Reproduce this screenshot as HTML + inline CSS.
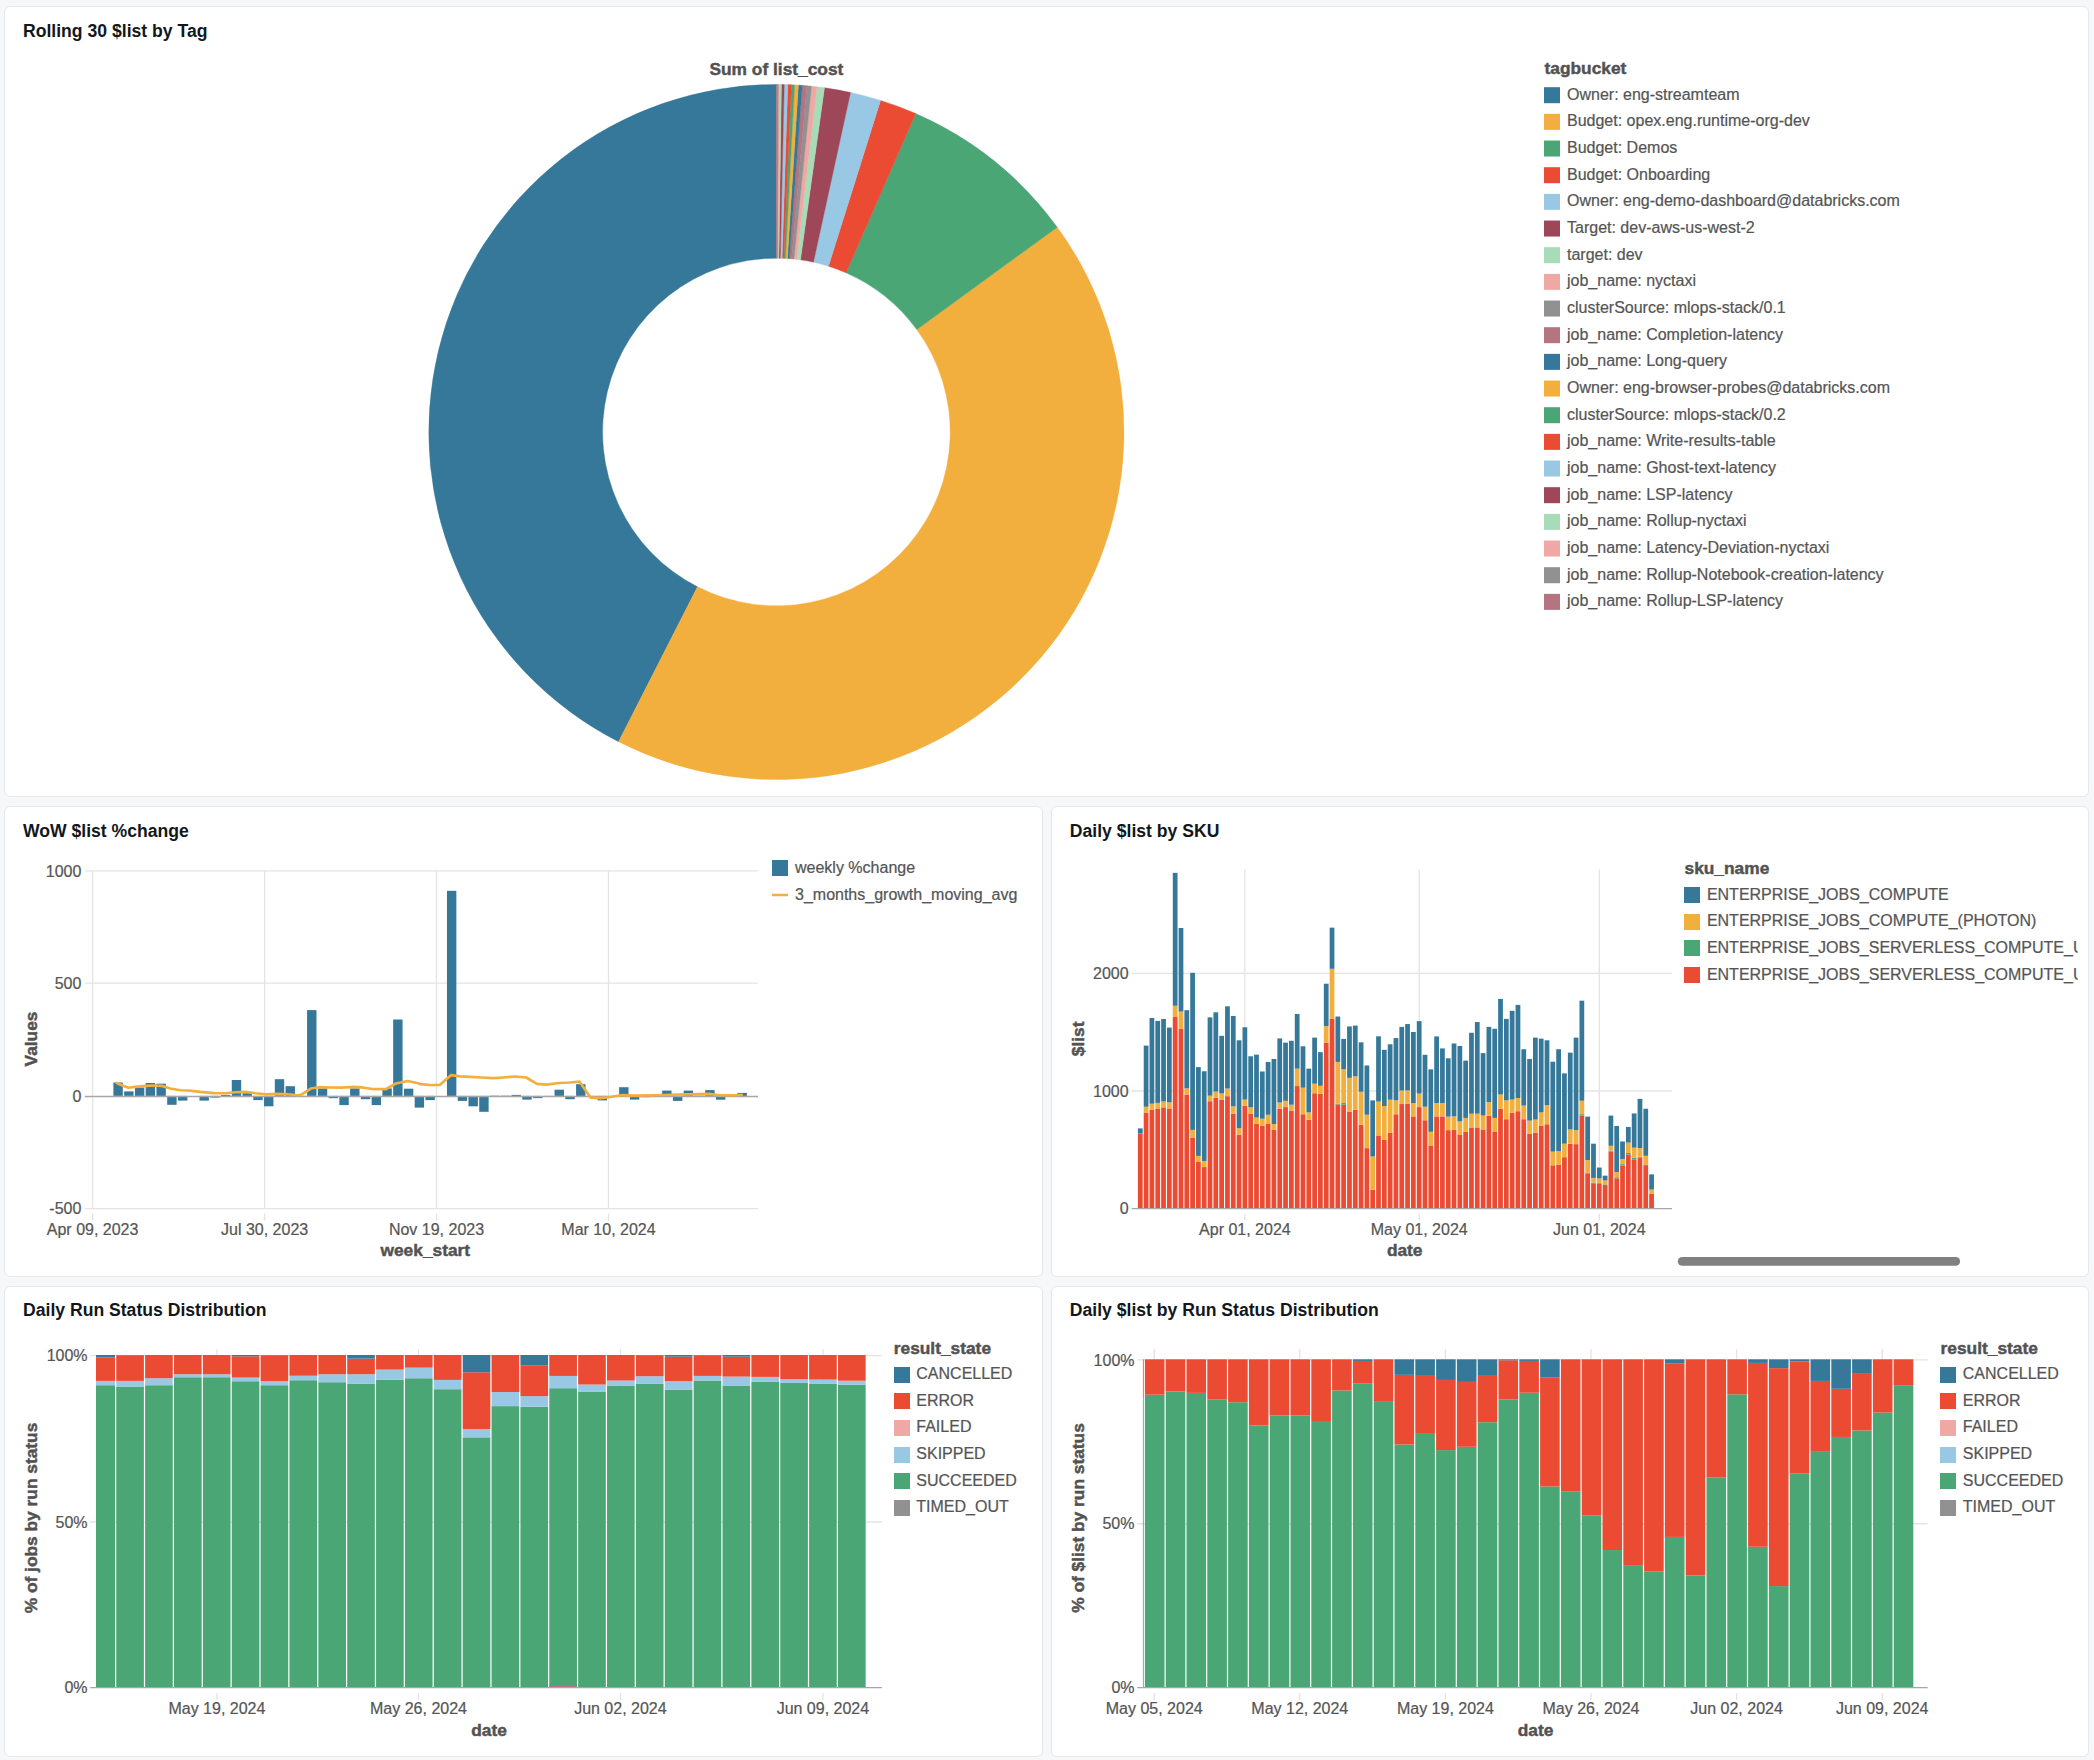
<!DOCTYPE html>
<html lang="en"><head><meta charset="utf-8"><title>Jobs cost dashboard</title>
<style>
html,body{margin:0;padding:0}
body{width:2094px;height:1760px;background:#F6F7F9;position:relative;overflow:hidden;font-family:"Liberation Sans", sans-serif}
.card{position:absolute;box-sizing:border-box;background:#fff;border:1px solid #E6E8EB;border-radius:6px;overflow:hidden}
.card h2{position:absolute;margin:0;font-size:17.6px;line-height:20px;font-weight:bold;color:#12171C;white-space:nowrap}
.card svg{position:absolute;left:-1px;top:-1px;font-family:"Liberation Sans", sans-serif}
</style></head><body>

<div class="card" style="left:4px;top:6px;width:2085px;height:791px">
<h2 style="left:18px;top:14.4px">Rolling 30 $list by Tag</h2>
<svg width="2085" height="791" viewBox="4 6 2085 791">
<path d="M776.4 84.4A347.6 347.6 0 0 0 618.59 741.71L697.5 586.86A173.8 173.8 0 0 1 776.4 258.2Z" fill="#36789A" stroke="#36789A" stroke-width="0.4"/>
<path d="M618.59 741.71A347.6 347.6 0 0 0 1057.26 227.2L916.83 329.6A173.8 173.8 0 0 1 697.5 586.86Z" fill="#F3AF3D" stroke="#F3AF3D" stroke-width="0.4"/>
<path d="M1057.26 227.2A347.6 347.6 0 0 0 915.73 113.55L846.06 272.77A173.8 173.8 0 0 1 916.83 329.6Z" fill="#4BA676" stroke="#4BA676" stroke-width="0.4"/>
<path d="M915.73 113.55A347.6 347.6 0 0 0 880.58 100.38L828.49 266.19A173.8 173.8 0 0 1 846.06 272.77Z" fill="#EB4A33" stroke="#EB4A33" stroke-width="0.4"/>
<path d="M880.58 100.38A347.6 347.6 0 0 0 850.51 92.39L813.45 262.2A173.8 173.8 0 0 1 828.49 266.19Z" fill="#99C8E4" stroke="#99C8E4" stroke-width="0.4"/>
<path d="M850.51 92.39A347.6 347.6 0 0 0 824.48 87.74L800.44 259.87A173.8 173.8 0 0 1 813.45 262.2Z" fill="#9E4758" stroke="#9E4758" stroke-width="0.4"/>
<path d="M824.48 87.74A347.6 347.6 0 0 0 816.95 86.77L796.68 259.39A173.8 173.8 0 0 1 800.44 259.87Z" fill="#A8DBB7" stroke="#A8DBB7" stroke-width="0.4"/>
<path d="M816.95 86.77A347.6 347.6 0 0 0 811.47 86.17L793.93 259.09A173.8 173.8 0 0 1 796.68 259.39Z" fill="#EFA8A3" stroke="#EFA8A3" stroke-width="0.4"/>
<path d="M811.47 86.17A347.6 347.6 0 0 0 806.88 85.74L791.64 258.87A173.8 173.8 0 0 1 793.93 259.09Z" fill="#919191" stroke="#919191" stroke-width="0.4"/>
<path d="M806.88 85.74A347.6 347.6 0 0 0 802.34 85.37L789.37 258.68A173.8 173.8 0 0 1 791.64 258.87Z" fill="#B47480" stroke="#B47480" stroke-width="0.4"/>
<path d="M802.34 85.37A347.6 347.6 0 0 0 798.41 85.1L787.4 258.55A173.8 173.8 0 0 1 789.37 258.68Z" fill="#36789A" stroke="#36789A" stroke-width="0.4"/>
<path d="M798.41 85.1A347.6 347.6 0 0 0 794.59 84.88L785.5 258.44A173.8 173.8 0 0 1 787.4 258.55Z" fill="#F3AF3D" stroke="#F3AF3D" stroke-width="0.4"/>
<path d="M794.59 84.88A347.6 347.6 0 0 0 791.32 84.72L783.86 258.36A173.8 173.8 0 0 1 785.5 258.44Z" fill="#4BA676" stroke="#4BA676" stroke-width="0.4"/>
<path d="M791.32 84.72A347.6 347.6 0 0 0 787.8 84.59L782.1 258.29A173.8 173.8 0 0 1 783.86 258.36Z" fill="#EB4A33" stroke="#EB4A33" stroke-width="0.4"/>
<path d="M787.8 84.59A347.6 347.6 0 0 0 784.23 84.49L780.31 258.24A173.8 173.8 0 0 1 782.1 258.29Z" fill="#99C8E4" stroke="#99C8E4" stroke-width="0.4"/>
<path d="M784.23 84.49A347.6 347.6 0 0 0 781.44 84.44L778.92 258.22A173.8 173.8 0 0 1 780.31 258.24Z" fill="#9E4758" stroke="#9E4758" stroke-width="0.4"/>
<path d="M781.44 84.44A347.6 347.6 0 0 0 779.74 84.42L778.07 258.21A173.8 173.8 0 0 1 778.92 258.22Z" fill="#A8DBB7" stroke="#A8DBB7" stroke-width="0.4"/>
<path d="M779.74 84.42A347.6 347.6 0 0 0 778.34 84.41L777.37 258.2A173.8 173.8 0 0 1 778.07 258.21Z" fill="#EFA8A3" stroke="#EFA8A3" stroke-width="0.4"/>
<path d="M778.34 84.41A347.6 347.6 0 0 0 777.19 84.4L776.79 258.2A173.8 173.8 0 0 1 777.37 258.2Z" fill="#919191" stroke="#919191" stroke-width="0.4"/>
<path d="M777.19 84.4A347.6 347.6 0 0 0 776.4 84.4L776.4 258.2A173.8 173.8 0 0 1 776.79 258.2Z" fill="#B47480" stroke="#B47480" stroke-width="0.4"/>
<text x="776.4" y="75.1" font-size="17.33" text-anchor="middle" font-weight="bold" fill="#525252" stroke="#525252" stroke-width="0.45">Sum of list_cost</text>
<text x="1544.5" y="73.9" font-size="17.33" font-weight="bold" fill="#525252" stroke="#525252" stroke-width="0.45">tagbucket</text>
<rect x="1544" y="87.2" width="16" height="16" fill="#36789A"/>
<text x="1567" y="99.8" font-size="16" fill="#555555" stroke="#555555" stroke-width="0.22">Owner: eng-streamteam</text>
<rect x="1544" y="113.87" width="16" height="16" fill="#F3AF3D"/>
<text x="1567" y="126.47" font-size="16" fill="#555555" stroke="#555555" stroke-width="0.22">Budget: opex.eng.runtime-org-dev</text>
<rect x="1544" y="140.53" width="16" height="16" fill="#4BA676"/>
<text x="1567" y="153.13" font-size="16" fill="#555555" stroke="#555555" stroke-width="0.22">Budget: Demos</text>
<rect x="1544" y="167.2" width="16" height="16" fill="#EB4A33"/>
<text x="1567" y="179.8" font-size="16" fill="#555555" stroke="#555555" stroke-width="0.22">Budget: Onboarding</text>
<rect x="1544" y="193.87" width="16" height="16" fill="#99C8E4"/>
<text x="1567" y="206.47" font-size="16" fill="#555555" stroke="#555555" stroke-width="0.22">Owner: eng-demo-dashboard@databricks.com</text>
<rect x="1544" y="220.54" width="16" height="16" fill="#9E4758"/>
<text x="1567" y="233.14" font-size="16" fill="#555555" stroke="#555555" stroke-width="0.22">Target: dev-aws-us-west-2</text>
<rect x="1544" y="247.2" width="16" height="16" fill="#A8DBB7"/>
<text x="1567" y="259.8" font-size="16" fill="#555555" stroke="#555555" stroke-width="0.22">target: dev</text>
<rect x="1544" y="273.87" width="16" height="16" fill="#EFA8A3"/>
<text x="1567" y="286.47" font-size="16" fill="#555555" stroke="#555555" stroke-width="0.22">job_name: nyctaxi</text>
<rect x="1544" y="300.54" width="16" height="16" fill="#919191"/>
<text x="1567" y="313.14" font-size="16" fill="#555555" stroke="#555555" stroke-width="0.22">clusterSource: mlops-stack/0.1</text>
<rect x="1544" y="327.2" width="16" height="16" fill="#B47480"/>
<text x="1567" y="339.8" font-size="16" fill="#555555" stroke="#555555" stroke-width="0.22">job_name: Completion-latency</text>
<rect x="1544" y="353.87" width="16" height="16" fill="#36789A"/>
<text x="1567" y="366.47" font-size="16" fill="#555555" stroke="#555555" stroke-width="0.22">job_name: Long-query</text>
<rect x="1544" y="380.54" width="16" height="16" fill="#F3AF3D"/>
<text x="1567" y="393.14" font-size="16" fill="#555555" stroke="#555555" stroke-width="0.22">Owner: eng-browser-probes@databricks.com</text>
<rect x="1544" y="407.2" width="16" height="16" fill="#4BA676"/>
<text x="1567" y="419.8" font-size="16" fill="#555555" stroke="#555555" stroke-width="0.22">clusterSource: mlops-stack/0.2</text>
<rect x="1544" y="433.87" width="16" height="16" fill="#EB4A33"/>
<text x="1567" y="446.47" font-size="16" fill="#555555" stroke="#555555" stroke-width="0.22">job_name: Write-results-table</text>
<rect x="1544" y="460.54" width="16" height="16" fill="#99C8E4"/>
<text x="1567" y="473.14" font-size="16" fill="#555555" stroke="#555555" stroke-width="0.22">job_name: Ghost-text-latency</text>
<rect x="1544" y="487.2" width="16" height="16" fill="#9E4758"/>
<text x="1567" y="499.81" font-size="16" fill="#555555" stroke="#555555" stroke-width="0.22">job_name: LSP-latency</text>
<rect x="1544" y="513.87" width="16" height="16" fill="#A8DBB7"/>
<text x="1567" y="526.47" font-size="16" fill="#555555" stroke="#555555" stroke-width="0.22">job_name: Rollup-nyctaxi</text>
<rect x="1544" y="540.54" width="16" height="16" fill="#EFA8A3"/>
<text x="1567" y="553.14" font-size="16" fill="#555555" stroke="#555555" stroke-width="0.22">job_name: Latency-Deviation-nyctaxi</text>
<rect x="1544" y="567.21" width="16" height="16" fill="#919191"/>
<text x="1567" y="579.81" font-size="16" fill="#555555" stroke="#555555" stroke-width="0.22">job_name: Rollup-Notebook-creation-latency</text>
<rect x="1544" y="593.87" width="16" height="16" fill="#B47480"/>
<text x="1567" y="606.47" font-size="16" fill="#555555" stroke="#555555" stroke-width="0.22">job_name: Rollup-LSP-latency</text>
</svg></div>
<div class="card" style="left:4px;top:806px;width:1039px;height:471px">
<h2 style="left:18px;top:13.8px">WoW $list %change</h2>
<svg width="1039" height="471" viewBox="4 806 1039 471">
<line x1="84.8" y1="870.8" x2="758" y2="870.8" stroke="#e4e4e4" stroke-width="1.33"/>
<text x="81.4" y="876.5" font-size="16" text-anchor="end" fill="#555555" stroke="#555555" stroke-width="0.22">1000</text>
<line x1="84.8" y1="983.1" x2="758" y2="983.1" stroke="#e4e4e4" stroke-width="1.33"/>
<text x="81.4" y="988.8" font-size="16" text-anchor="end" fill="#555555" stroke="#555555" stroke-width="0.22">500</text>
<line x1="84.8" y1="1208.7" x2="758" y2="1208.7" stroke="#e4e4e4" stroke-width="1.33"/>
<text x="81.4" y="1214.4" font-size="16" text-anchor="end" fill="#555555" stroke="#555555" stroke-width="0.22">-500</text>
<line x1="92.6" y1="870.8" x2="92.6" y2="1208.7" stroke="#e4e4e4" stroke-width="1.33"/>
<line x1="92.6" y1="1213.7" x2="92.6" y2="1220.6" stroke="#e4e4e4" stroke-width="1.33"/>
<text x="92.6" y="1234.6" font-size="16" text-anchor="middle" fill="#555555" stroke="#555555" stroke-width="0.22">Apr 09, 2023</text>
<line x1="264.6" y1="870.8" x2="264.6" y2="1208.7" stroke="#e4e4e4" stroke-width="1.33"/>
<line x1="264.6" y1="1213.7" x2="264.6" y2="1220.6" stroke="#e4e4e4" stroke-width="1.33"/>
<text x="264.6" y="1234.6" font-size="16" text-anchor="middle" fill="#555555" stroke="#555555" stroke-width="0.22">Jul 30, 2023</text>
<line x1="436.5" y1="870.8" x2="436.5" y2="1208.7" stroke="#e4e4e4" stroke-width="1.33"/>
<line x1="436.5" y1="1213.7" x2="436.5" y2="1220.6" stroke="#e4e4e4" stroke-width="1.33"/>
<text x="436.5" y="1234.6" font-size="16" text-anchor="middle" fill="#555555" stroke="#555555" stroke-width="0.22">Nov 19, 2023</text>
<line x1="608.5" y1="870.8" x2="608.5" y2="1208.7" stroke="#e4e4e4" stroke-width="1.33"/>
<line x1="608.5" y1="1213.7" x2="608.5" y2="1220.6" stroke="#e4e4e4" stroke-width="1.33"/>
<text x="608.5" y="1234.6" font-size="16" text-anchor="middle" fill="#555555" stroke="#555555" stroke-width="0.22">Mar 10, 2024</text>
<rect x="113.4" y="1082.5" width="9.4" height="13.4" fill="#36789A"/>
<rect x="124.16" y="1091.4" width="9.4" height="4.5" fill="#36789A"/>
<rect x="134.92" y="1087.5" width="9.4" height="8.4" fill="#36789A"/>
<rect x="145.68" y="1083" width="9.4" height="12.9" fill="#36789A"/>
<rect x="156.44" y="1083.7" width="9.4" height="12.2" fill="#36789A"/>
<rect x="167.2" y="1095.9" width="9.4" height="8.9" fill="#36789A"/>
<rect x="177.96" y="1095.9" width="9.4" height="4.7" fill="#36789A"/>
<rect x="199.48" y="1095.9" width="9.4" height="4.7" fill="#36789A"/>
<rect x="210.24" y="1095.9" width="9.4" height="1.7" fill="#36789A"/>
<rect x="221" y="1094.9" width="9.4" height="1" fill="#36789A"/>
<rect x="231.76" y="1080" width="9.4" height="15.9" fill="#36789A"/>
<rect x="242.52" y="1093.1" width="9.4" height="2.8" fill="#36789A"/>
<rect x="253.28" y="1095.9" width="9.4" height="4.2" fill="#36789A"/>
<rect x="264.04" y="1095.9" width="9.4" height="10.4" fill="#36789A"/>
<rect x="274.8" y="1079.2" width="9.4" height="16.7" fill="#36789A"/>
<rect x="285.56" y="1086.2" width="9.4" height="9.7" fill="#36789A"/>
<rect x="296.32" y="1095.9" width="9.4" height="0.8" fill="#36789A"/>
<rect x="307.08" y="1010.1" width="9.4" height="85.8" fill="#36789A"/>
<rect x="317.84" y="1088.4" width="9.4" height="7.5" fill="#36789A"/>
<rect x="328.6" y="1095.9" width="9.4" height="2.3" fill="#36789A"/>
<rect x="339.36" y="1095.9" width="9.4" height="9.2" fill="#36789A"/>
<rect x="350.12" y="1088.4" width="9.4" height="7.5" fill="#36789A"/>
<rect x="360.88" y="1095.9" width="9.4" height="3.3" fill="#36789A"/>
<rect x="371.64" y="1095.9" width="9.4" height="9.2" fill="#36789A"/>
<rect x="382.4" y="1088.4" width="9.4" height="7.5" fill="#36789A"/>
<rect x="393.16" y="1019.5" width="9.4" height="76.4" fill="#36789A"/>
<rect x="403.92" y="1088.7" width="9.4" height="7.2" fill="#36789A"/>
<rect x="414.68" y="1095.9" width="9.4" height="11.7" fill="#36789A"/>
<rect x="425.44" y="1095.9" width="9.4" height="4.2" fill="#36789A"/>
<rect x="446.96" y="890.8" width="9.4" height="205.1" fill="#36789A"/>
<rect x="457.72" y="1095.9" width="9.4" height="5" fill="#36789A"/>
<rect x="468.48" y="1095.9" width="9.4" height="10.4" fill="#36789A"/>
<rect x="479.24" y="1095.9" width="9.4" height="15.9" fill="#36789A"/>
<rect x="490" y="1095.6" width="9.4" height="0.3" fill="#36789A"/>
<rect x="500.76" y="1095.6" width="9.4" height="0.3" fill="#36789A"/>
<rect x="511.52" y="1094.9" width="9.4" height="1" fill="#36789A"/>
<rect x="522.28" y="1095.9" width="9.4" height="3.7" fill="#36789A"/>
<rect x="533.04" y="1095.9" width="9.4" height="2.2" fill="#36789A"/>
<rect x="543.8" y="1095.9" width="9.4" height="0.8" fill="#36789A"/>
<rect x="554.56" y="1089.7" width="9.4" height="6.2" fill="#36789A"/>
<rect x="565.32" y="1095.9" width="9.4" height="3.3" fill="#36789A"/>
<rect x="576.08" y="1084.2" width="9.4" height="11.7" fill="#36789A"/>
<rect x="586.84" y="1095.9" width="9.4" height="1" fill="#36789A"/>
<rect x="597.6" y="1095.9" width="9.4" height="4.5" fill="#36789A"/>
<rect x="619.12" y="1087.2" width="9.4" height="8.7" fill="#36789A"/>
<rect x="629.88" y="1095.9" width="9.4" height="3.7" fill="#36789A"/>
<rect x="640.64" y="1095.9" width="9.4" height="1.3" fill="#36789A"/>
<rect x="651.4" y="1095.4" width="9.4" height="0.5" fill="#36789A"/>
<rect x="662.16" y="1090.6" width="9.4" height="5.3" fill="#36789A"/>
<rect x="672.92" y="1095.9" width="9.4" height="5" fill="#36789A"/>
<rect x="683.68" y="1090.6" width="9.4" height="5.3" fill="#36789A"/>
<rect x="694.44" y="1095.6" width="9.4" height="0.3" fill="#36789A"/>
<rect x="705.2" y="1090.1" width="9.4" height="5.8" fill="#36789A"/>
<rect x="715.96" y="1095.9" width="9.4" height="3.8" fill="#36789A"/>
<rect x="726.72" y="1095.6" width="9.4" height="0.3" fill="#36789A"/>
<rect x="737.48" y="1092.9" width="9.4" height="3" fill="#36789A"/>
<line x1="84.8" y1="1096.5" x2="758" y2="1096.5" stroke="#a6a6a6" stroke-width="1.33"/>
<text x="81.4" y="1102.2" font-size="16" text-anchor="end" fill="#555555" stroke="#555555" stroke-width="0.22">0</text>
<polyline fill="none" stroke="#F3AF3D" stroke-width="2.67" stroke-linejoin="round" stroke-linecap="round" points="116.77,1083.02 121.79,1085.19 128.47,1087.7 135.16,1086.86 146.02,1085.86 153.54,1085.53 161.9,1085.86 170.26,1088.54 180.28,1090.21 188.64,1090.54 200.34,1091.88 213.71,1093.05 225.41,1093.22 235.44,1092.21 245.47,1091.88 255.5,1093.22 265.53,1094.22 277.23,1093.88 287.25,1094.22 298.95,1095.22 302.3,1094.22 310.65,1088.54 319.01,1087.2 330.71,1087.53 340.74,1087.7 354.11,1086.86 364.14,1087.7 374.17,1089.2 385.87,1089.2 395.9,1083.52 407.59,1081.02 419.29,1083.52 420,1084.19 430.03,1085.03 440.06,1084.86 450.92,1075.17 460.11,1076.34 470.14,1076.84 481.84,1077.51 493.54,1078.17 503.57,1077.51 515.27,1076.5 526.13,1077.51 537,1083.86 547.03,1084.69 558.73,1083.02 570.43,1082.52 579.62,1081.68 590.48,1097.56 600.51,1098.06 608.87,1097.23 622.24,1095.05 633.94,1095.56 654,1095.22 670.71,1094.72 687.42,1094.39 709.15,1093.88 719.18,1095.22 734.22,1095.22 741.74,1094.72"/>
<text x="425.3" y="1256" font-size="17.33" text-anchor="middle" font-weight="bold" fill="#525252" stroke="#525252" stroke-width="0.45">week_start</text>
<text x="36.9" y="1039" font-size="17.33" text-anchor="middle" font-weight="bold" fill="#525252" stroke="#525252" stroke-width="0.45" transform="rotate(-90 36.9 1039)">Values</text>
<rect x="772" y="860" width="16" height="16" fill="#36789A"/>
<text x="795" y="873" font-size="16" fill="#555555" stroke="#555555" stroke-width="0.22">weekly %change</text>
<line x1="772" y1="895" x2="788" y2="895" stroke="#F3AF3D" stroke-width="2.67"/>
<text x="795" y="899.7" font-size="16" fill="#555555" stroke="#555555" stroke-width="0.22">3_months_growth_moving_avg</text>
</svg></div>
<div class="card" style="left:1051px;top:806px;width:1038px;height:471px">
<h2 style="left:17.8px;top:13.8px">Daily $list by SKU</h2>
<svg width="1038" height="471" viewBox="1051 806 1038 471">
<line x1="1131.7" y1="973.4" x2="1672" y2="973.4" stroke="#e4e4e4" stroke-width="1.33"/>
<text x="1128.6" y="979.1" font-size="16" text-anchor="end" fill="#555555" stroke="#555555" stroke-width="0.22">2000</text>
<line x1="1131.7" y1="1091" x2="1672" y2="1091" stroke="#e4e4e4" stroke-width="1.33"/>
<text x="1128.6" y="1096.7" font-size="16" text-anchor="end" fill="#555555" stroke="#555555" stroke-width="0.22">1000</text>
<line x1="1244.9" y1="869.5" x2="1244.9" y2="1208.6" stroke="#e4e4e4" stroke-width="1.33"/>
<line x1="1244.9" y1="1213.7" x2="1244.9" y2="1220.6" stroke="#e4e4e4" stroke-width="1.33"/>
<text x="1244.9" y="1234.6" font-size="16" text-anchor="middle" fill="#555555" stroke="#555555" stroke-width="0.22">Apr 01, 2024</text>
<line x1="1419.2" y1="869.5" x2="1419.2" y2="1208.6" stroke="#e4e4e4" stroke-width="1.33"/>
<line x1="1419.2" y1="1213.7" x2="1419.2" y2="1220.6" stroke="#e4e4e4" stroke-width="1.33"/>
<text x="1419.2" y="1234.6" font-size="16" text-anchor="middle" fill="#555555" stroke="#555555" stroke-width="0.22">May 01, 2024</text>
<line x1="1599.3" y1="869.5" x2="1599.3" y2="1208.6" stroke="#e4e4e4" stroke-width="1.33"/>
<line x1="1599.3" y1="1213.7" x2="1599.3" y2="1220.6" stroke="#e4e4e4" stroke-width="1.33"/>
<text x="1599.3" y="1234.6" font-size="16" text-anchor="middle" fill="#555555" stroke="#555555" stroke-width="0.22">Jun 01, 2024</text>
<rect x="1137.92" y="1133.91" width="4.75" height="74.09" fill="#EB4A33"/>
<rect x="1137.92" y="1133.68" width="4.75" height="0.24" fill="#F3AF3D"/>
<rect x="1137.92" y="1128.38" width="4.75" height="5.29" fill="#36789A"/>
<rect x="1143.73" y="1112.86" width="4.75" height="95.14" fill="#EB4A33"/>
<rect x="1143.73" y="1106.75" width="4.75" height="6.12" fill="#F3AF3D"/>
<rect x="1143.73" y="1045.59" width="4.75" height="61.15" fill="#36789A"/>
<rect x="1149.54" y="1109.8" width="4.75" height="98.2" fill="#EB4A33"/>
<rect x="1149.54" y="1103.69" width="4.75" height="6.12" fill="#F3AF3D"/>
<rect x="1149.54" y="1017.96" width="4.75" height="85.73" fill="#36789A"/>
<rect x="1155.36" y="1108.98" width="4.75" height="99.02" fill="#EB4A33"/>
<rect x="1155.36" y="1102.87" width="4.75" height="6.12" fill="#F3AF3D"/>
<rect x="1155.36" y="1020.9" width="4.75" height="81.97" fill="#36789A"/>
<rect x="1161.16" y="1107.33" width="4.75" height="100.67" fill="#EB4A33"/>
<rect x="1161.16" y="1101.45" width="4.75" height="5.88" fill="#F3AF3D"/>
<rect x="1161.16" y="1019.02" width="4.75" height="82.44" fill="#36789A"/>
<rect x="1166.97" y="1108.39" width="4.75" height="99.61" fill="#EB4A33"/>
<rect x="1166.97" y="1102.28" width="4.75" height="6.12" fill="#F3AF3D"/>
<rect x="1166.97" y="1027.6" width="4.75" height="74.68" fill="#36789A"/>
<rect x="1172.78" y="1017.02" width="4.75" height="190.98" fill="#EB4A33"/>
<rect x="1172.78" y="1005.73" width="4.75" height="11.29" fill="#F3AF3D"/>
<rect x="1172.78" y="872.84" width="4.75" height="132.89" fill="#36789A"/>
<rect x="1178.6" y="1028.9" width="4.75" height="179.1" fill="#EB4A33"/>
<rect x="1178.6" y="1011.61" width="4.75" height="17.29" fill="#F3AF3D"/>
<rect x="1178.6" y="927.99" width="4.75" height="83.61" fill="#36789A"/>
<rect x="1184.4" y="1094.52" width="4.75" height="113.48" fill="#EB4A33"/>
<rect x="1184.4" y="1088.4" width="4.75" height="6.12" fill="#F3AF3D"/>
<rect x="1184.4" y="1010.2" width="4.75" height="78.2" fill="#36789A"/>
<rect x="1190.21" y="1137.44" width="4.75" height="70.56" fill="#EB4A33"/>
<rect x="1190.21" y="1129.91" width="4.75" height="7.53" fill="#F3AF3D"/>
<rect x="1190.21" y="972.8" width="4.75" height="157.11" fill="#36789A"/>
<rect x="1196.02" y="1162.02" width="4.75" height="45.98" fill="#EB4A33"/>
<rect x="1196.02" y="1155.9" width="4.75" height="6.12" fill="#F3AF3D"/>
<rect x="1196.02" y="1067.12" width="4.75" height="88.79" fill="#36789A"/>
<rect x="1201.84" y="1167.08" width="4.75" height="40.92" fill="#EB4A33"/>
<rect x="1201.84" y="1160.96" width="4.75" height="6.12" fill="#F3AF3D"/>
<rect x="1201.84" y="1071.23" width="4.75" height="89.73" fill="#36789A"/>
<rect x="1207.64" y="1101.22" width="4.75" height="106.78" fill="#EB4A33"/>
<rect x="1207.64" y="1095.69" width="4.75" height="5.53" fill="#F3AF3D"/>
<rect x="1207.64" y="1017.37" width="4.75" height="78.32" fill="#36789A"/>
<rect x="1213.45" y="1097.81" width="4.75" height="110.19" fill="#EB4A33"/>
<rect x="1213.45" y="1091.58" width="4.75" height="6.23" fill="#F3AF3D"/>
<rect x="1213.45" y="1012.31" width="4.75" height="79.26" fill="#36789A"/>
<rect x="1219.26" y="1099.57" width="4.75" height="108.43" fill="#EB4A33"/>
<rect x="1219.26" y="1093.46" width="4.75" height="6.12" fill="#F3AF3D"/>
<rect x="1219.26" y="1035.83" width="4.75" height="57.62" fill="#36789A"/>
<rect x="1225.08" y="1096.16" width="4.75" height="111.84" fill="#EB4A33"/>
<rect x="1225.08" y="1088.52" width="4.75" height="7.64" fill="#F3AF3D"/>
<rect x="1225.08" y="1006.32" width="4.75" height="82.2" fill="#36789A"/>
<rect x="1230.88" y="1113.57" width="4.75" height="94.43" fill="#EB4A33"/>
<rect x="1230.88" y="1106.39" width="4.75" height="7.17" fill="#F3AF3D"/>
<rect x="1230.88" y="1015.96" width="4.75" height="90.43" fill="#36789A"/>
<rect x="1236.69" y="1134.62" width="4.75" height="73.38" fill="#EB4A33"/>
<rect x="1236.69" y="1128.27" width="4.75" height="6.35" fill="#F3AF3D"/>
<rect x="1236.69" y="1040.3" width="4.75" height="87.96" fill="#36789A"/>
<rect x="1242.5" y="1105.69" width="4.75" height="102.31" fill="#EB4A33"/>
<rect x="1242.5" y="1099.57" width="4.75" height="6.12" fill="#F3AF3D"/>
<rect x="1242.5" y="1027.25" width="4.75" height="72.32" fill="#36789A"/>
<rect x="1248.32" y="1113.57" width="4.75" height="94.43" fill="#EB4A33"/>
<rect x="1248.32" y="1107.33" width="4.75" height="6.23" fill="#F3AF3D"/>
<rect x="1248.32" y="1056.3" width="4.75" height="51.04" fill="#36789A"/>
<rect x="1254.12" y="1124.03" width="4.75" height="83.97" fill="#EB4A33"/>
<rect x="1254.12" y="1117.57" width="4.75" height="6.47" fill="#F3AF3D"/>
<rect x="1254.12" y="1054.65" width="4.75" height="62.92" fill="#36789A"/>
<rect x="1259.93" y="1125.56" width="4.75" height="82.44" fill="#EB4A33"/>
<rect x="1259.93" y="1118.74" width="4.75" height="6.82" fill="#F3AF3D"/>
<rect x="1259.93" y="1071.47" width="4.75" height="47.28" fill="#36789A"/>
<rect x="1265.74" y="1123.45" width="4.75" height="84.55" fill="#EB4A33"/>
<rect x="1265.74" y="1114.74" width="4.75" height="8.7" fill="#F3AF3D"/>
<rect x="1265.74" y="1061.94" width="4.75" height="52.8" fill="#36789A"/>
<rect x="1271.55" y="1129.91" width="4.75" height="78.09" fill="#EB4A33"/>
<rect x="1271.55" y="1124.03" width="4.75" height="5.88" fill="#F3AF3D"/>
<rect x="1271.55" y="1059" width="4.75" height="65.03" fill="#36789A"/>
<rect x="1277.37" y="1108.75" width="4.75" height="99.25" fill="#EB4A33"/>
<rect x="1277.37" y="1102.51" width="4.75" height="6.23" fill="#F3AF3D"/>
<rect x="1277.37" y="1038.42" width="4.75" height="64.09" fill="#36789A"/>
<rect x="1283.17" y="1107.1" width="4.75" height="100.9" fill="#EB4A33"/>
<rect x="1283.17" y="1100.87" width="4.75" height="6.23" fill="#F3AF3D"/>
<rect x="1283.17" y="1042.65" width="4.75" height="58.21" fill="#36789A"/>
<rect x="1288.98" y="1110.51" width="4.75" height="97.49" fill="#EB4A33"/>
<rect x="1288.98" y="1104.75" width="4.75" height="5.76" fill="#F3AF3D"/>
<rect x="1288.98" y="1040.77" width="4.75" height="63.97" fill="#36789A"/>
<rect x="1294.79" y="1086.05" width="4.75" height="121.95" fill="#EB4A33"/>
<rect x="1294.79" y="1068.64" width="4.75" height="17.4" fill="#F3AF3D"/>
<rect x="1294.79" y="1013.96" width="4.75" height="54.68" fill="#36789A"/>
<rect x="1300.61" y="1114.27" width="4.75" height="93.73" fill="#EB4A33"/>
<rect x="1300.61" y="1087.7" width="4.75" height="26.58" fill="#F3AF3D"/>
<rect x="1300.61" y="1046.3" width="4.75" height="41.4" fill="#36789A"/>
<rect x="1306.41" y="1119.8" width="4.75" height="88.2" fill="#EB4A33"/>
<rect x="1306.41" y="1112.39" width="4.75" height="7.41" fill="#F3AF3D"/>
<rect x="1306.41" y="1068.64" width="4.75" height="43.75" fill="#36789A"/>
<rect x="1312.22" y="1093.22" width="4.75" height="114.78" fill="#EB4A33"/>
<rect x="1312.22" y="1083.7" width="4.75" height="9.53" fill="#F3AF3D"/>
<rect x="1312.22" y="1037.6" width="4.75" height="46.1" fill="#36789A"/>
<rect x="1318.03" y="1093.69" width="4.75" height="114.31" fill="#EB4A33"/>
<rect x="1318.03" y="1085.81" width="4.75" height="7.88" fill="#F3AF3D"/>
<rect x="1318.03" y="1052.18" width="4.75" height="33.63" fill="#36789A"/>
<rect x="1323.85" y="1042.65" width="4.75" height="165.35" fill="#EB4A33"/>
<rect x="1323.85" y="1026.07" width="4.75" height="16.58" fill="#F3AF3D"/>
<rect x="1323.85" y="983.74" width="4.75" height="42.34" fill="#36789A"/>
<rect x="1329.65" y="1018.78" width="4.75" height="189.22" fill="#EB4A33"/>
<rect x="1329.65" y="968.8" width="4.75" height="49.98" fill="#F3AF3D"/>
<rect x="1329.65" y="927.64" width="4.75" height="41.16" fill="#36789A"/>
<rect x="1335.46" y="1104.39" width="4.75" height="103.61" fill="#EB4A33"/>
<rect x="1335.46" y="1103.81" width="4.75" height="0.59" fill="#4BA676"/>
<rect x="1335.46" y="1061.94" width="4.75" height="41.87" fill="#F3AF3D"/>
<rect x="1335.46" y="1016.55" width="4.75" height="45.39" fill="#36789A"/>
<rect x="1341.27" y="1104.75" width="4.75" height="103.25" fill="#EB4A33"/>
<rect x="1341.27" y="1102.98" width="4.75" height="1.76" fill="#4BA676"/>
<rect x="1341.27" y="1069.35" width="4.75" height="33.63" fill="#F3AF3D"/>
<rect x="1341.27" y="1038.89" width="4.75" height="30.46" fill="#36789A"/>
<rect x="1347.09" y="1111.57" width="4.75" height="96.43" fill="#EB4A33"/>
<rect x="1347.09" y="1077.82" width="4.75" height="33.75" fill="#F3AF3D"/>
<rect x="1347.09" y="1026.43" width="4.75" height="51.39" fill="#36789A"/>
<rect x="1352.89" y="1109.69" width="4.75" height="98.31" fill="#EB4A33"/>
<rect x="1352.89" y="1076.29" width="4.75" height="33.4" fill="#F3AF3D"/>
<rect x="1352.89" y="1025.6" width="4.75" height="50.69" fill="#36789A"/>
<rect x="1358.7" y="1124.74" width="4.75" height="83.26" fill="#EB4A33"/>
<rect x="1358.7" y="1091.69" width="4.75" height="33.05" fill="#F3AF3D"/>
<rect x="1358.7" y="1042.3" width="4.75" height="49.39" fill="#36789A"/>
<rect x="1364.51" y="1148.14" width="4.75" height="59.86" fill="#EB4A33"/>
<rect x="1364.51" y="1114.74" width="4.75" height="33.4" fill="#F3AF3D"/>
<rect x="1364.51" y="1065.47" width="4.75" height="49.27" fill="#36789A"/>
<rect x="1370.32" y="1189.89" width="4.75" height="18.11" fill="#EB4A33"/>
<rect x="1370.32" y="1156.49" width="4.75" height="33.4" fill="#F3AF3D"/>
<rect x="1370.32" y="1100.4" width="4.75" height="56.1" fill="#36789A"/>
<rect x="1376.13" y="1135.44" width="4.75" height="72.56" fill="#EB4A33"/>
<rect x="1376.13" y="1101.57" width="4.75" height="33.87" fill="#F3AF3D"/>
<rect x="1376.13" y="1036.3" width="4.75" height="65.27" fill="#36789A"/>
<rect x="1381.94" y="1139.91" width="4.75" height="68.09" fill="#EB4A33"/>
<rect x="1381.94" y="1106.04" width="4.75" height="33.87" fill="#F3AF3D"/>
<rect x="1381.94" y="1049.83" width="4.75" height="56.21" fill="#36789A"/>
<rect x="1387.75" y="1132.62" width="4.75" height="75.38" fill="#EB4A33"/>
<rect x="1387.75" y="1099.69" width="4.75" height="32.93" fill="#F3AF3D"/>
<rect x="1387.75" y="1044.3" width="4.75" height="55.39" fill="#36789A"/>
<rect x="1393.57" y="1114.27" width="4.75" height="93.73" fill="#EB4A33"/>
<rect x="1393.57" y="1100.4" width="4.75" height="13.88" fill="#F3AF3D"/>
<rect x="1393.57" y="1038.07" width="4.75" height="62.33" fill="#36789A"/>
<rect x="1399.38" y="1104.04" width="4.75" height="103.96" fill="#EB4A33"/>
<rect x="1399.38" y="1090.52" width="4.75" height="13.52" fill="#F3AF3D"/>
<rect x="1399.38" y="1026.9" width="4.75" height="63.62" fill="#36789A"/>
<rect x="1405.18" y="1103.92" width="4.75" height="104.08" fill="#EB4A33"/>
<rect x="1405.18" y="1090.4" width="4.75" height="13.52" fill="#F3AF3D"/>
<rect x="1405.18" y="1024.07" width="4.75" height="66.33" fill="#36789A"/>
<rect x="1410.99" y="1116.39" width="4.75" height="91.61" fill="#EB4A33"/>
<rect x="1410.99" y="1103.1" width="4.75" height="13.29" fill="#F3AF3D"/>
<rect x="1410.99" y="1031.95" width="4.75" height="71.15" fill="#36789A"/>
<rect x="1416.8" y="1107.1" width="4.75" height="100.9" fill="#EB4A33"/>
<rect x="1416.8" y="1093.58" width="4.75" height="13.52" fill="#F3AF3D"/>
<rect x="1416.8" y="1021.13" width="4.75" height="72.44" fill="#36789A"/>
<rect x="1422.62" y="1120.27" width="4.75" height="87.73" fill="#EB4A33"/>
<rect x="1422.62" y="1106.75" width="4.75" height="13.52" fill="#F3AF3D"/>
<rect x="1422.62" y="1054.77" width="4.75" height="51.98" fill="#36789A"/>
<rect x="1428.42" y="1145.44" width="4.75" height="62.56" fill="#EB4A33"/>
<rect x="1428.42" y="1131.8" width="4.75" height="13.64" fill="#F3AF3D"/>
<rect x="1428.42" y="1069.35" width="4.75" height="62.45" fill="#36789A"/>
<rect x="1434.23" y="1116.39" width="4.75" height="91.61" fill="#EB4A33"/>
<rect x="1434.23" y="1103.1" width="4.75" height="13.29" fill="#F3AF3D"/>
<rect x="1434.23" y="1036.42" width="4.75" height="66.68" fill="#36789A"/>
<rect x="1440.05" y="1116.39" width="4.75" height="91.61" fill="#EB4A33"/>
<rect x="1440.05" y="1103.1" width="4.75" height="13.29" fill="#F3AF3D"/>
<rect x="1440.05" y="1048.42" width="4.75" height="54.68" fill="#36789A"/>
<rect x="1445.86" y="1130.15" width="4.75" height="77.85" fill="#EB4A33"/>
<rect x="1445.86" y="1116.62" width="4.75" height="13.52" fill="#F3AF3D"/>
<rect x="1445.86" y="1058.3" width="4.75" height="58.33" fill="#36789A"/>
<rect x="1451.66" y="1129.91" width="4.75" height="78.09" fill="#EB4A33"/>
<rect x="1451.66" y="1116.39" width="4.75" height="13.52" fill="#F3AF3D"/>
<rect x="1451.66" y="1043.48" width="4.75" height="72.91" fill="#36789A"/>
<rect x="1457.47" y="1134.97" width="4.75" height="73.03" fill="#EB4A33"/>
<rect x="1457.47" y="1121.45" width="4.75" height="13.52" fill="#F3AF3D"/>
<rect x="1457.47" y="1045.95" width="4.75" height="75.5" fill="#36789A"/>
<rect x="1463.28" y="1131.91" width="4.75" height="76.09" fill="#EB4A33"/>
<rect x="1463.28" y="1117.92" width="4.75" height="13.99" fill="#F3AF3D"/>
<rect x="1463.28" y="1060.65" width="4.75" height="57.27" fill="#36789A"/>
<rect x="1469.09" y="1127.44" width="4.75" height="80.56" fill="#EB4A33"/>
<rect x="1469.09" y="1113.68" width="4.75" height="13.76" fill="#F3AF3D"/>
<rect x="1469.09" y="1032.78" width="4.75" height="80.91" fill="#36789A"/>
<rect x="1474.9" y="1127.44" width="4.75" height="80.56" fill="#EB4A33"/>
<rect x="1474.9" y="1113.68" width="4.75" height="13.76" fill="#F3AF3D"/>
<rect x="1474.9" y="1022.07" width="4.75" height="91.61" fill="#36789A"/>
<rect x="1480.71" y="1129.44" width="4.75" height="78.56" fill="#EB4A33"/>
<rect x="1480.71" y="1115.57" width="4.75" height="13.88" fill="#F3AF3D"/>
<rect x="1480.71" y="1053.12" width="4.75" height="62.45" fill="#36789A"/>
<rect x="1486.52" y="1115.57" width="4.75" height="92.43" fill="#EB4A33"/>
<rect x="1486.52" y="1102.04" width="4.75" height="13.52" fill="#F3AF3D"/>
<rect x="1486.52" y="1026.9" width="4.75" height="75.15" fill="#36789A"/>
<rect x="1492.34" y="1131.44" width="4.75" height="76.56" fill="#EB4A33"/>
<rect x="1492.34" y="1117.92" width="4.75" height="13.52" fill="#F3AF3D"/>
<rect x="1492.34" y="1028.78" width="4.75" height="89.14" fill="#36789A"/>
<rect x="1498.14" y="1108.86" width="4.75" height="99.14" fill="#EB4A33"/>
<rect x="1498.14" y="1094.52" width="4.75" height="14.35" fill="#F3AF3D"/>
<rect x="1498.14" y="998.91" width="4.75" height="95.61" fill="#36789A"/>
<rect x="1503.95" y="1119.21" width="4.75" height="88.79" fill="#EB4A33"/>
<rect x="1503.95" y="1100.4" width="4.75" height="18.82" fill="#F3AF3D"/>
<rect x="1503.95" y="1018.9" width="4.75" height="81.5" fill="#36789A"/>
<rect x="1509.76" y="1112.86" width="4.75" height="95.14" fill="#EB4A33"/>
<rect x="1509.76" y="1099.57" width="4.75" height="13.29" fill="#F3AF3D"/>
<rect x="1509.76" y="1010.78" width="4.75" height="88.79" fill="#36789A"/>
<rect x="1515.57" y="1111.22" width="4.75" height="96.78" fill="#EB4A33"/>
<rect x="1515.57" y="1098.04" width="4.75" height="13.17" fill="#F3AF3D"/>
<rect x="1515.57" y="1004.9" width="4.75" height="93.14" fill="#36789A"/>
<rect x="1521.38" y="1119.21" width="4.75" height="88.79" fill="#EB4A33"/>
<rect x="1521.38" y="1105.57" width="4.75" height="13.64" fill="#F3AF3D"/>
<rect x="1521.38" y="1049.24" width="4.75" height="56.33" fill="#36789A"/>
<rect x="1527.19" y="1133.79" width="4.75" height="74.21" fill="#EB4A33"/>
<rect x="1527.19" y="1120.62" width="4.75" height="13.17" fill="#F3AF3D"/>
<rect x="1527.19" y="1059" width="4.75" height="61.62" fill="#36789A"/>
<rect x="1533" y="1132.74" width="4.75" height="75.26" fill="#EB4A33"/>
<rect x="1533" y="1119.56" width="4.75" height="13.17" fill="#F3AF3D"/>
<rect x="1533" y="1037.6" width="4.75" height="81.97" fill="#36789A"/>
<rect x="1538.82" y="1125.92" width="4.75" height="82.08" fill="#EB4A33"/>
<rect x="1538.82" y="1112.39" width="4.75" height="13.52" fill="#F3AF3D"/>
<rect x="1538.82" y="1038.66" width="4.75" height="73.74" fill="#36789A"/>
<rect x="1544.62" y="1124.27" width="4.75" height="83.73" fill="#EB4A33"/>
<rect x="1544.62" y="1105.22" width="4.75" height="19.05" fill="#F3AF3D"/>
<rect x="1544.62" y="1040.3" width="4.75" height="64.92" fill="#36789A"/>
<rect x="1550.43" y="1165.31" width="4.75" height="42.69" fill="#EB4A33"/>
<rect x="1550.43" y="1151.67" width="4.75" height="13.64" fill="#F3AF3D"/>
<rect x="1550.43" y="1061.71" width="4.75" height="89.96" fill="#36789A"/>
<rect x="1556.24" y="1164.61" width="4.75" height="43.39" fill="#EB4A33"/>
<rect x="1556.24" y="1151.08" width="4.75" height="13.52" fill="#F3AF3D"/>
<rect x="1556.24" y="1049.24" width="4.75" height="101.84" fill="#36789A"/>
<rect x="1562.05" y="1157.2" width="4.75" height="50.8" fill="#EB4A33"/>
<rect x="1562.05" y="1143.67" width="4.75" height="13.52" fill="#F3AF3D"/>
<rect x="1562.05" y="1073.35" width="4.75" height="70.32" fill="#36789A"/>
<rect x="1567.87" y="1143.67" width="4.75" height="64.33" fill="#EB4A33"/>
<rect x="1567.87" y="1129.44" width="4.75" height="14.23" fill="#F3AF3D"/>
<rect x="1567.87" y="1052.65" width="4.75" height="76.79" fill="#36789A"/>
<rect x="1573.67" y="1144.14" width="4.75" height="63.86" fill="#EB4A33"/>
<rect x="1573.67" y="1130.15" width="4.75" height="13.99" fill="#F3AF3D"/>
<rect x="1573.67" y="1037.6" width="4.75" height="92.55" fill="#36789A"/>
<rect x="1579.48" y="1115.57" width="4.75" height="92.43" fill="#EB4A33"/>
<rect x="1579.48" y="1114.16" width="4.75" height="1.41" fill="#4BA676"/>
<rect x="1579.48" y="1100.75" width="4.75" height="13.41" fill="#F3AF3D"/>
<rect x="1579.48" y="1000.67" width="4.75" height="100.08" fill="#36789A"/>
<rect x="1585.29" y="1173.66" width="4.75" height="34.34" fill="#EB4A33"/>
<rect x="1585.29" y="1172.96" width="4.75" height="0.71" fill="#4BA676"/>
<rect x="1585.29" y="1160.14" width="4.75" height="12.82" fill="#F3AF3D"/>
<rect x="1585.29" y="1116.62" width="4.75" height="43.51" fill="#36789A"/>
<rect x="1591.11" y="1183.19" width="4.75" height="24.81" fill="#EB4A33"/>
<rect x="1591.11" y="1182.6" width="4.75" height="0.59" fill="#4BA676"/>
<rect x="1591.11" y="1177.89" width="4.75" height="4.7" fill="#F3AF3D"/>
<rect x="1591.11" y="1143.67" width="4.75" height="34.22" fill="#36789A"/>
<rect x="1596.91" y="1183.66" width="4.75" height="24.34" fill="#EB4A33"/>
<rect x="1596.91" y="1182.95" width="4.75" height="0.71" fill="#4BA676"/>
<rect x="1596.91" y="1178.36" width="4.75" height="4.59" fill="#F3AF3D"/>
<rect x="1596.91" y="1167.55" width="4.75" height="10.82" fill="#36789A"/>
<rect x="1602.72" y="1185.07" width="4.75" height="22.93" fill="#EB4A33"/>
<rect x="1602.72" y="1184.36" width="4.75" height="0.71" fill="#4BA676"/>
<rect x="1602.72" y="1180.48" width="4.75" height="3.88" fill="#F3AF3D"/>
<rect x="1602.72" y="1175.66" width="4.75" height="4.82" fill="#36789A"/>
<rect x="1608.53" y="1151.67" width="4.75" height="56.33" fill="#EB4A33"/>
<rect x="1608.53" y="1150.61" width="4.75" height="1.06" fill="#4BA676"/>
<rect x="1608.53" y="1145.79" width="4.75" height="4.82" fill="#F3AF3D"/>
<rect x="1608.53" y="1115.57" width="4.75" height="30.22" fill="#36789A"/>
<rect x="1614.34" y="1178.36" width="4.75" height="29.64" fill="#EB4A33"/>
<rect x="1614.34" y="1177.19" width="4.75" height="1.18" fill="#4BA676"/>
<rect x="1614.34" y="1172.01" width="4.75" height="5.17" fill="#F3AF3D"/>
<rect x="1614.34" y="1125.92" width="4.75" height="46.1" fill="#36789A"/>
<rect x="1620.15" y="1165.66" width="4.75" height="42.34" fill="#EB4A33"/>
<rect x="1620.15" y="1164.14" width="4.75" height="1.53" fill="#4BA676"/>
<rect x="1620.15" y="1158.96" width="4.75" height="5.17" fill="#F3AF3D"/>
<rect x="1620.15" y="1141.44" width="4.75" height="17.52" fill="#36789A"/>
<rect x="1625.96" y="1154.49" width="4.75" height="53.51" fill="#EB4A33"/>
<rect x="1625.96" y="1152.96" width="4.75" height="1.53" fill="#4BA676"/>
<rect x="1625.96" y="1142.61" width="4.75" height="10.35" fill="#F3AF3D"/>
<rect x="1625.96" y="1126.97" width="4.75" height="15.64" fill="#36789A"/>
<rect x="1631.77" y="1159.67" width="4.75" height="48.33" fill="#EB4A33"/>
<rect x="1631.77" y="1157.78" width="4.75" height="1.88" fill="#4BA676"/>
<rect x="1631.77" y="1147.67" width="4.75" height="10.11" fill="#F3AF3D"/>
<rect x="1631.77" y="1113.45" width="4.75" height="34.22" fill="#36789A"/>
<rect x="1637.59" y="1157.67" width="4.75" height="50.33" fill="#EB4A33"/>
<rect x="1637.59" y="1156.84" width="4.75" height="0.82" fill="#4BA676"/>
<rect x="1637.59" y="1148.14" width="4.75" height="8.7" fill="#F3AF3D"/>
<rect x="1637.59" y="1098.87" width="4.75" height="49.27" fill="#36789A"/>
<rect x="1643.39" y="1165.19" width="4.75" height="42.81" fill="#EB4A33"/>
<rect x="1643.39" y="1164.49" width="4.75" height="0.71" fill="#4BA676"/>
<rect x="1643.39" y="1155.79" width="4.75" height="8.7" fill="#F3AF3D"/>
<rect x="1643.39" y="1108.75" width="4.75" height="47.04" fill="#36789A"/>
<rect x="1649.2" y="1193.89" width="4.75" height="14.11" fill="#EB4A33"/>
<rect x="1649.2" y="1189.54" width="4.75" height="4.35" fill="#F3AF3D"/>
<rect x="1649.2" y="1174.37" width="4.75" height="15.17" fill="#36789A"/>
<line x1="1131.7" y1="1208.6" x2="1672" y2="1208.6" stroke="#a6a6a6" stroke-width="1.33"/>
<text x="1128.6" y="1214.3" font-size="16" text-anchor="end" fill="#555555" stroke="#555555" stroke-width="0.22">0</text>
<text x="1404.7" y="1256" font-size="17.33" text-anchor="middle" font-weight="bold" fill="#525252" stroke="#525252" stroke-width="0.45">date</text>
<text x="1084" y="1038.9" font-size="17.33" text-anchor="middle" font-weight="bold" fill="#525252" stroke="#525252" stroke-width="0.45" transform="rotate(-90 1084 1038.9)">$list</text>
<text x="1684.5" y="873.8" font-size="17.33" font-weight="bold" fill="#525252" stroke="#525252" stroke-width="0.45">sku_name</text>
<clipPath id="skuclip"><rect x="1680" y="850" width="397.6" height="140"/></clipPath><g clip-path="url(#skuclip)">
<rect x="1684" y="887" width="16" height="16" fill="#36789A"/>
<text x="1706.9" y="899.8" font-size="16" fill="#555555" stroke="#555555" stroke-width="0.22">ENTERPRISE_JOBS_COMPUTE</text>
<rect x="1684" y="914" width="16" height="16" fill="#F3AF3D"/>
<text x="1706.9" y="926.47" font-size="16" fill="#555555" stroke="#555555" stroke-width="0.22">ENTERPRISE_JOBS_COMPUTE_(PHOTON)</text>
<rect x="1684" y="940" width="16" height="16" fill="#4BA676"/>
<text x="1706.9" y="953.13" font-size="16" fill="#555555" stroke="#555555" stroke-width="0.22">ENTERPRISE_JOBS_SERVERLESS_COMPUTE_US_EAST_N_VIRGINIA</text>
<rect x="1684" y="967" width="16" height="16" fill="#EB4A33"/>
<text x="1706.9" y="979.8" font-size="16" fill="#555555" stroke="#555555" stroke-width="0.22">ENTERPRISE_JOBS_SERVERLESS_COMPUTE_US_WEST_OREGON</text>
</g>
<rect x="1677.8" y="1257" width="282.3" height="8.8" rx="4.4" fill="#808080"/>
</svg></div>
<div class="card" style="left:4px;top:1286px;width:1039px;height:471px">
<h2 style="left:18px;top:12.9px">Daily Run Status Distribution</h2>
<svg width="1039" height="471" viewBox="4 1286 1039 471">
<line x1="90.2" y1="1355.6" x2="881.9" y2="1355.6" stroke="#e4e4e4" stroke-width="1.33"/>
<text x="87.6" y="1361.3" font-size="16" text-anchor="end" fill="#555555" stroke="#555555" stroke-width="0.22">100%</text>
<line x1="90.2" y1="1522" x2="881.9" y2="1522" stroke="#e4e4e4" stroke-width="1.33"/>
<text x="87.6" y="1527.7" font-size="16" text-anchor="end" fill="#555555" stroke="#555555" stroke-width="0.22">50%</text>
<line x1="216.9" y1="1349" x2="216.9" y2="1687" stroke="#e4e4e4" stroke-width="1.33"/>
<line x1="216.9" y1="1693" x2="216.9" y2="1700" stroke="#e4e4e4" stroke-width="1.33"/>
<text x="216.9" y="1713.7" font-size="16" text-anchor="middle" fill="#555555" stroke="#555555" stroke-width="0.22">May 19, 2024</text>
<line x1="418.5" y1="1349" x2="418.5" y2="1687" stroke="#e4e4e4" stroke-width="1.33"/>
<line x1="418.5" y1="1693" x2="418.5" y2="1700" stroke="#e4e4e4" stroke-width="1.33"/>
<text x="418.5" y="1713.7" font-size="16" text-anchor="middle" fill="#555555" stroke="#555555" stroke-width="0.22">May 26, 2024</text>
<line x1="620.4" y1="1349" x2="620.4" y2="1687" stroke="#e4e4e4" stroke-width="1.33"/>
<line x1="620.4" y1="1693" x2="620.4" y2="1700" stroke="#e4e4e4" stroke-width="1.33"/>
<text x="620.4" y="1713.7" font-size="16" text-anchor="middle" fill="#555555" stroke="#555555" stroke-width="0.22">Jun 02, 2024</text>
<line x1="822.9" y1="1349" x2="822.9" y2="1687" stroke="#e4e4e4" stroke-width="1.33"/>
<line x1="822.9" y1="1693" x2="822.9" y2="1700" stroke="#e4e4e4" stroke-width="1.33"/>
<text x="822.9" y="1713.7" font-size="16" text-anchor="middle" fill="#555555" stroke="#555555" stroke-width="0.22">Jun 09, 2024</text>
<clipPath id="s1clip"><rect x="96" y="1340" width="785.9" height="360"/></clipPath><g clip-path="url(#s1clip)">
<rect x="87.38" y="1385.21" width="27.65" height="301.79" fill="#4BA676"/>
<rect x="87.38" y="1380.9" width="27.65" height="4.32" fill="#99C8E4"/>
<rect x="87.38" y="1357.32" width="27.65" height="23.57" fill="#EB4A33"/>
<rect x="87.38" y="1355" width="27.65" height="2.32" fill="#36789A"/>
<rect x="116.24" y="1386.54" width="27.65" height="300.46" fill="#4BA676"/>
<rect x="116.24" y="1380.9" width="27.65" height="5.64" fill="#99C8E4"/>
<rect x="116.24" y="1355.33" width="27.65" height="25.56" fill="#EB4A33"/>
<rect x="116.24" y="1355" width="27.65" height="0.33" fill="#36789A"/>
<rect x="145.12" y="1385.21" width="27.65" height="301.79" fill="#4BA676"/>
<rect x="145.12" y="1378.24" width="27.65" height="6.97" fill="#99C8E4"/>
<rect x="145.12" y="1355" width="27.65" height="23.24" fill="#EB4A33"/>
<rect x="173.99" y="1377.24" width="27.65" height="309.76" fill="#4BA676"/>
<rect x="173.99" y="1374.26" width="27.65" height="2.99" fill="#99C8E4"/>
<rect x="173.99" y="1355" width="27.65" height="19.26" fill="#EB4A33"/>
<rect x="202.86" y="1377.24" width="27.65" height="309.76" fill="#4BA676"/>
<rect x="202.86" y="1374.26" width="27.65" height="2.99" fill="#99C8E4"/>
<rect x="202.86" y="1355" width="27.65" height="19.26" fill="#EB4A33"/>
<rect x="231.73" y="1381.23" width="27.65" height="305.77" fill="#4BA676"/>
<rect x="231.73" y="1377.58" width="27.65" height="3.65" fill="#99C8E4"/>
<rect x="231.73" y="1356.33" width="27.65" height="21.25" fill="#EB4A33"/>
<rect x="231.73" y="1355" width="27.65" height="1.33" fill="#36789A"/>
<rect x="260.6" y="1385.21" width="27.65" height="301.79" fill="#4BA676"/>
<rect x="260.6" y="1381.23" width="27.65" height="3.98" fill="#99C8E4"/>
<rect x="260.6" y="1355.33" width="27.65" height="25.9" fill="#EB4A33"/>
<rect x="260.6" y="1355" width="27.65" height="0.33" fill="#36789A"/>
<rect x="289.47" y="1380.23" width="27.65" height="306.77" fill="#4BA676"/>
<rect x="289.47" y="1375.75" width="27.65" height="4.48" fill="#99C8E4"/>
<rect x="289.47" y="1355" width="27.65" height="20.75" fill="#EB4A33"/>
<rect x="318.34" y="1382.22" width="27.65" height="304.78" fill="#4BA676"/>
<rect x="318.34" y="1374.26" width="27.65" height="7.97" fill="#99C8E4"/>
<rect x="318.34" y="1355" width="27.65" height="19.26" fill="#EB4A33"/>
<rect x="347.2" y="1383.88" width="27.65" height="303.12" fill="#4BA676"/>
<rect x="347.2" y="1374.26" width="27.65" height="9.63" fill="#99C8E4"/>
<rect x="347.2" y="1358.65" width="27.65" height="15.6" fill="#EB4A33"/>
<rect x="347.2" y="1355" width="27.65" height="3.65" fill="#36789A"/>
<rect x="376.07" y="1379.57" width="27.65" height="307.43" fill="#4BA676"/>
<rect x="376.07" y="1369.61" width="27.65" height="9.96" fill="#99C8E4"/>
<rect x="376.07" y="1355" width="27.65" height="14.61" fill="#EB4A33"/>
<rect x="404.94" y="1378.24" width="27.65" height="308.76" fill="#4BA676"/>
<rect x="404.94" y="1367.62" width="27.65" height="10.62" fill="#99C8E4"/>
<rect x="404.94" y="1355" width="27.65" height="12.62" fill="#EB4A33"/>
<rect x="433.81" y="1389.2" width="27.65" height="297.8" fill="#4BA676"/>
<rect x="433.81" y="1379.9" width="27.65" height="9.3" fill="#99C8E4"/>
<rect x="433.81" y="1355" width="27.65" height="24.9" fill="#EB4A33"/>
<rect x="462.69" y="1437.34" width="27.65" height="249.66" fill="#4BA676"/>
<rect x="462.69" y="1429.04" width="27.65" height="8.3" fill="#99C8E4"/>
<rect x="462.69" y="1372.26" width="27.65" height="56.77" fill="#EB4A33"/>
<rect x="462.69" y="1355" width="27.65" height="17.26" fill="#36789A"/>
<rect x="491.56" y="1406.13" width="27.65" height="280.87" fill="#4BA676"/>
<rect x="491.56" y="1392.02" width="27.65" height="14.11" fill="#99C8E4"/>
<rect x="491.56" y="1355" width="27.65" height="37.02" fill="#EB4A33"/>
<rect x="520.42" y="1406.79" width="27.65" height="280.21" fill="#4BA676"/>
<rect x="520.42" y="1396.17" width="27.65" height="10.62" fill="#99C8E4"/>
<rect x="520.42" y="1365.29" width="27.65" height="30.88" fill="#EB4A33"/>
<rect x="520.42" y="1355" width="27.65" height="10.29" fill="#36789A"/>
<rect x="549.29" y="1388.2" width="27.65" height="298.8" fill="#4BA676"/>
<rect x="549.29" y="1375.92" width="27.65" height="12.28" fill="#99C8E4"/>
<rect x="549.29" y="1355" width="27.65" height="20.92" fill="#EB4A33"/>
<rect x="549.29" y="1685.7" width="27.65" height="1.3" fill="#B47480"/>
<rect x="578.16" y="1391.52" width="27.65" height="295.48" fill="#4BA676"/>
<rect x="578.16" y="1384.55" width="27.65" height="6.97" fill="#99C8E4"/>
<rect x="578.16" y="1355" width="27.65" height="29.55" fill="#EB4A33"/>
<rect x="607.03" y="1385.54" width="27.65" height="301.46" fill="#4BA676"/>
<rect x="607.03" y="1380.56" width="27.65" height="4.98" fill="#99C8E4"/>
<rect x="607.03" y="1355" width="27.65" height="25.56" fill="#EB4A33"/>
<rect x="635.9" y="1383.88" width="27.65" height="303.12" fill="#4BA676"/>
<rect x="635.9" y="1376.25" width="27.65" height="7.64" fill="#99C8E4"/>
<rect x="635.9" y="1355.66" width="27.65" height="20.58" fill="#EB4A33"/>
<rect x="635.9" y="1355" width="27.65" height="0.66" fill="#36789A"/>
<rect x="664.77" y="1389.53" width="27.65" height="297.47" fill="#4BA676"/>
<rect x="664.77" y="1381.23" width="27.65" height="8.3" fill="#99C8E4"/>
<rect x="664.77" y="1356.66" width="27.65" height="24.57" fill="#EB4A33"/>
<rect x="664.77" y="1355" width="27.65" height="1.66" fill="#36789A"/>
<rect x="693.64" y="1380.56" width="27.65" height="306.44" fill="#4BA676"/>
<rect x="693.64" y="1375.92" width="27.65" height="4.65" fill="#99C8E4"/>
<rect x="693.64" y="1355.66" width="27.65" height="20.25" fill="#EB4A33"/>
<rect x="693.64" y="1355" width="27.65" height="0.66" fill="#36789A"/>
<rect x="722.51" y="1385.54" width="27.65" height="301.46" fill="#4BA676"/>
<rect x="722.51" y="1376.58" width="27.65" height="8.96" fill="#99C8E4"/>
<rect x="722.51" y="1356.66" width="27.65" height="19.92" fill="#EB4A33"/>
<rect x="722.51" y="1355" width="27.65" height="1.66" fill="#36789A"/>
<rect x="751.38" y="1381.56" width="27.65" height="305.44" fill="#4BA676"/>
<rect x="751.38" y="1376.91" width="27.65" height="4.65" fill="#99C8E4"/>
<rect x="751.38" y="1355" width="27.65" height="21.91" fill="#EB4A33"/>
<rect x="780.25" y="1382.89" width="27.65" height="304.11" fill="#4BA676"/>
<rect x="780.25" y="1379.24" width="27.65" height="3.65" fill="#99C8E4"/>
<rect x="780.25" y="1355" width="27.65" height="24.24" fill="#EB4A33"/>
<rect x="809.12" y="1383.55" width="27.65" height="303.45" fill="#4BA676"/>
<rect x="809.12" y="1379.57" width="27.65" height="3.98" fill="#99C8E4"/>
<rect x="809.12" y="1355" width="27.65" height="24.57" fill="#EB4A33"/>
<rect x="838" y="1384.71" width="27.65" height="302.29" fill="#4BA676"/>
<rect x="838" y="1380.73" width="27.65" height="3.98" fill="#99C8E4"/>
<rect x="838" y="1355" width="27.65" height="25.73" fill="#EB4A33"/>
</g>
<line x1="90.2" y1="1687.6" x2="881.9" y2="1687.6" stroke="#a6a6a6" stroke-width="1.33"/>
<text x="87.6" y="1693.3" font-size="16" text-anchor="end" fill="#555555" stroke="#555555" stroke-width="0.22">0%</text>
<text x="489" y="1736" font-size="17.33" text-anchor="middle" font-weight="bold" fill="#525252" stroke="#525252" stroke-width="0.45">date</text>
<text x="36.8" y="1518" font-size="17.33" text-anchor="middle" font-weight="bold" fill="#525252" stroke="#525252" stroke-width="0.45" transform="rotate(-90 36.8 1518)">% of jobs by run status</text>
<text x="893.75" y="1353.75" font-size="17.33" font-weight="bold" fill="#525252" stroke="#525252" stroke-width="0.45">result_state</text>
<rect x="894" y="1367" width="16" height="16" fill="#36789A"/>
<text x="916.3" y="1378.9" font-size="16" fill="#555555" stroke="#555555" stroke-width="0.22">CANCELLED</text>
<rect x="894" y="1393" width="16" height="16" fill="#EB4A33"/>
<text x="916.3" y="1405.57" font-size="16" fill="#555555" stroke="#555555" stroke-width="0.22">ERROR</text>
<rect x="894" y="1420" width="16" height="16" fill="#EFA8A3"/>
<text x="916.3" y="1432.23" font-size="16" fill="#555555" stroke="#555555" stroke-width="0.22">FAILED</text>
<rect x="894" y="1447" width="16" height="16" fill="#99C8E4"/>
<text x="916.3" y="1458.9" font-size="16" fill="#555555" stroke="#555555" stroke-width="0.22">SKIPPED</text>
<rect x="894" y="1473" width="16" height="16" fill="#4BA676"/>
<text x="916.3" y="1485.57" font-size="16" fill="#555555" stroke="#555555" stroke-width="0.22">SUCCEEDED</text>
<rect x="894" y="1500" width="16" height="16" fill="#919191"/>
<text x="916.3" y="1512.24" font-size="16" fill="#555555" stroke="#555555" stroke-width="0.22">TIMED_OUT</text>
</svg></div>
<div class="card" style="left:1051px;top:1286px;width:1038px;height:471px">
<h2 style="left:17.8px;top:12.9px">Daily $list by Run Status Distribution</h2>
<svg width="1038" height="471" viewBox="1051 1286 1038 471">
<line x1="1137.2" y1="1359.9" x2="1927.7" y2="1359.9" stroke="#e4e4e4" stroke-width="1.33"/>
<text x="1134.5" y="1365.6" font-size="16" text-anchor="end" fill="#555555" stroke="#555555" stroke-width="0.22">100%</text>
<line x1="1137.2" y1="1523.75" x2="1927.7" y2="1523.75" stroke="#e4e4e4" stroke-width="1.33"/>
<text x="1134.5" y="1529.45" font-size="16" text-anchor="end" fill="#555555" stroke="#555555" stroke-width="0.22">50%</text>
<line x1="1154.2" y1="1349" x2="1154.2" y2="1687" stroke="#e4e4e4" stroke-width="1.33"/>
<line x1="1154.2" y1="1693" x2="1154.2" y2="1700" stroke="#e4e4e4" stroke-width="1.33"/>
<text x="1154.2" y="1713.7" font-size="16" text-anchor="middle" fill="#555555" stroke="#555555" stroke-width="0.22">May 05, 2024</text>
<line x1="1299.8" y1="1349" x2="1299.8" y2="1687" stroke="#e4e4e4" stroke-width="1.33"/>
<line x1="1299.8" y1="1693" x2="1299.8" y2="1700" stroke="#e4e4e4" stroke-width="1.33"/>
<text x="1299.8" y="1713.7" font-size="16" text-anchor="middle" fill="#555555" stroke="#555555" stroke-width="0.22">May 12, 2024</text>
<line x1="1445.4" y1="1349" x2="1445.4" y2="1687" stroke="#e4e4e4" stroke-width="1.33"/>
<line x1="1445.4" y1="1693" x2="1445.4" y2="1700" stroke="#e4e4e4" stroke-width="1.33"/>
<text x="1445.4" y="1713.7" font-size="16" text-anchor="middle" fill="#555555" stroke="#555555" stroke-width="0.22">May 19, 2024</text>
<line x1="1591" y1="1349" x2="1591" y2="1687" stroke="#e4e4e4" stroke-width="1.33"/>
<line x1="1591" y1="1693" x2="1591" y2="1700" stroke="#e4e4e4" stroke-width="1.33"/>
<text x="1591" y="1713.7" font-size="16" text-anchor="middle" fill="#555555" stroke="#555555" stroke-width="0.22">May 26, 2024</text>
<line x1="1736.6" y1="1349" x2="1736.6" y2="1687" stroke="#e4e4e4" stroke-width="1.33"/>
<line x1="1736.6" y1="1693" x2="1736.6" y2="1700" stroke="#e4e4e4" stroke-width="1.33"/>
<text x="1736.6" y="1713.7" font-size="16" text-anchor="middle" fill="#555555" stroke="#555555" stroke-width="0.22">Jun 02, 2024</text>
<line x1="1882.2" y1="1349" x2="1882.2" y2="1687" stroke="#e4e4e4" stroke-width="1.33"/>
<line x1="1882.2" y1="1693" x2="1882.2" y2="1700" stroke="#e4e4e4" stroke-width="1.33"/>
<text x="1882.2" y="1713.7" font-size="16" text-anchor="middle" fill="#555555" stroke="#555555" stroke-width="0.22">Jun 09, 2024</text>
<clipPath id="s2clip"><rect x="1142.9" y="1340" width="784.8" height="360"/></clipPath><g clip-path="url(#s2clip)">
<rect x="1124.1" y="1398.62" width="19.6" height="288.38" fill="#4BA676"/>
<rect x="1124.1" y="1359.3" width="19.6" height="39.32" fill="#EB4A33"/>
<rect x="1144.9" y="1394.69" width="19.6" height="292.31" fill="#4BA676"/>
<rect x="1144.9" y="1359.3" width="19.6" height="35.39" fill="#EB4A33"/>
<rect x="1165.7" y="1391.41" width="19.6" height="295.59" fill="#4BA676"/>
<rect x="1165.7" y="1359.3" width="19.6" height="32.11" fill="#EB4A33"/>
<rect x="1186.5" y="1392.89" width="19.6" height="294.11" fill="#4BA676"/>
<rect x="1186.5" y="1359.3" width="19.6" height="33.59" fill="#EB4A33"/>
<rect x="1207.3" y="1399.61" width="19.6" height="287.39" fill="#4BA676"/>
<rect x="1207.3" y="1359.3" width="19.6" height="40.31" fill="#EB4A33"/>
<rect x="1228.1" y="1402.23" width="19.6" height="284.77" fill="#4BA676"/>
<rect x="1228.1" y="1359.3" width="19.6" height="42.93" fill="#EB4A33"/>
<rect x="1248.9" y="1425.5" width="19.6" height="261.5" fill="#4BA676"/>
<rect x="1248.9" y="1359.3" width="19.6" height="66.2" fill="#EB4A33"/>
<rect x="1269.7" y="1415.34" width="19.6" height="271.66" fill="#4BA676"/>
<rect x="1269.7" y="1359.3" width="19.6" height="56.04" fill="#EB4A33"/>
<rect x="1290.5" y="1415.34" width="19.6" height="271.66" fill="#4BA676"/>
<rect x="1290.5" y="1359.3" width="19.6" height="56.04" fill="#EB4A33"/>
<rect x="1311.3" y="1421.89" width="19.6" height="265.11" fill="#4BA676"/>
<rect x="1311.3" y="1359.3" width="19.6" height="62.59" fill="#EB4A33"/>
<rect x="1332.1" y="1390.43" width="19.6" height="296.57" fill="#4BA676"/>
<rect x="1332.1" y="1359.3" width="19.6" height="31.13" fill="#EB4A33"/>
<rect x="1352.9" y="1383.22" width="19.6" height="303.78" fill="#4BA676"/>
<rect x="1352.9" y="1360.94" width="19.6" height="22.28" fill="#EB4A33"/>
<rect x="1352.9" y="1359.3" width="19.6" height="1.64" fill="#36789A"/>
<rect x="1373.7" y="1401.08" width="19.6" height="285.92" fill="#4BA676"/>
<rect x="1373.7" y="1359.3" width="19.6" height="41.78" fill="#EB4A33"/>
<rect x="1394.5" y="1444.5" width="19.6" height="242.5" fill="#4BA676"/>
<rect x="1394.5" y="1374.87" width="19.6" height="69.64" fill="#EB4A33"/>
<rect x="1394.5" y="1359.3" width="19.6" height="15.57" fill="#36789A"/>
<rect x="1415.3" y="1433.85" width="19.6" height="253.15" fill="#4BA676"/>
<rect x="1415.3" y="1375.03" width="19.6" height="58.82" fill="#EB4A33"/>
<rect x="1415.3" y="1359.3" width="19.6" height="15.73" fill="#36789A"/>
<rect x="1436.1" y="1450.07" width="19.6" height="236.93" fill="#4BA676"/>
<rect x="1436.1" y="1379.95" width="19.6" height="70.13" fill="#EB4A33"/>
<rect x="1436.1" y="1359.3" width="19.6" height="20.65" fill="#36789A"/>
<rect x="1456.9" y="1446.8" width="19.6" height="240.2" fill="#4BA676"/>
<rect x="1456.9" y="1381.91" width="19.6" height="64.88" fill="#EB4A33"/>
<rect x="1456.9" y="1359.3" width="19.6" height="22.61" fill="#36789A"/>
<rect x="1477.7" y="1422.22" width="19.6" height="264.78" fill="#4BA676"/>
<rect x="1477.7" y="1375.03" width="19.6" height="47.19" fill="#EB4A33"/>
<rect x="1477.7" y="1359.3" width="19.6" height="15.73" fill="#36789A"/>
<rect x="1498.5" y="1399.61" width="19.6" height="287.39" fill="#4BA676"/>
<rect x="1498.5" y="1360.28" width="19.6" height="39.32" fill="#EB4A33"/>
<rect x="1498.5" y="1359.3" width="19.6" height="0.98" fill="#36789A"/>
<rect x="1519.3" y="1392.73" width="19.6" height="294.27" fill="#4BA676"/>
<rect x="1519.3" y="1360.94" width="19.6" height="31.79" fill="#EB4A33"/>
<rect x="1519.3" y="1359.3" width="19.6" height="1.64" fill="#36789A"/>
<rect x="1540.1" y="1486.45" width="19.6" height="200.55" fill="#4BA676"/>
<rect x="1540.1" y="1377.65" width="19.6" height="108.8" fill="#EB4A33"/>
<rect x="1540.1" y="1359.3" width="19.6" height="18.35" fill="#36789A"/>
<rect x="1560.9" y="1491.69" width="19.6" height="195.31" fill="#4BA676"/>
<rect x="1560.9" y="1359.3" width="19.6" height="132.39" fill="#EB4A33"/>
<rect x="1581.7" y="1515.61" width="19.6" height="171.39" fill="#4BA676"/>
<rect x="1581.7" y="1359.3" width="19.6" height="156.31" fill="#EB4A33"/>
<rect x="1602.5" y="1550.02" width="19.6" height="136.98" fill="#4BA676"/>
<rect x="1602.5" y="1359.3" width="19.6" height="190.72" fill="#EB4A33"/>
<rect x="1623.3" y="1565.1" width="19.6" height="121.9" fill="#4BA676"/>
<rect x="1623.3" y="1359.3" width="19.6" height="205.8" fill="#EB4A33"/>
<rect x="1644.1" y="1571.65" width="19.6" height="115.35" fill="#4BA676"/>
<rect x="1644.1" y="1359.3" width="19.6" height="212.35" fill="#EB4A33"/>
<rect x="1664.9" y="1536.91" width="19.6" height="150.09" fill="#4BA676"/>
<rect x="1664.9" y="1363.23" width="19.6" height="173.68" fill="#EB4A33"/>
<rect x="1664.9" y="1359.3" width="19.6" height="3.93" fill="#36789A"/>
<rect x="1685.7" y="1575.58" width="19.6" height="111.42" fill="#4BA676"/>
<rect x="1685.7" y="1359.3" width="19.6" height="216.28" fill="#EB4A33"/>
<rect x="1706.5" y="1477.27" width="19.6" height="209.73" fill="#4BA676"/>
<rect x="1706.5" y="1359.3" width="19.6" height="117.97" fill="#EB4A33"/>
<rect x="1727.3" y="1394.36" width="19.6" height="292.64" fill="#4BA676"/>
<rect x="1727.3" y="1359.3" width="19.6" height="35.06" fill="#EB4A33"/>
<rect x="1748.1" y="1546.74" width="19.6" height="140.26" fill="#4BA676"/>
<rect x="1748.1" y="1362.9" width="19.6" height="183.84" fill="#EB4A33"/>
<rect x="1748.1" y="1359.3" width="19.6" height="3.6" fill="#36789A"/>
<rect x="1768.9" y="1586.07" width="19.6" height="100.93" fill="#4BA676"/>
<rect x="1768.9" y="1368.15" width="19.6" height="217.92" fill="#EB4A33"/>
<rect x="1768.9" y="1359.3" width="19.6" height="8.85" fill="#36789A"/>
<rect x="1789.7" y="1473.67" width="19.6" height="213.33" fill="#4BA676"/>
<rect x="1789.7" y="1361.59" width="19.6" height="112.07" fill="#EB4A33"/>
<rect x="1789.7" y="1359.3" width="19.6" height="2.29" fill="#36789A"/>
<rect x="1810.5" y="1451.06" width="19.6" height="235.94" fill="#4BA676"/>
<rect x="1810.5" y="1380.93" width="19.6" height="70.13" fill="#EB4A33"/>
<rect x="1810.5" y="1359.3" width="19.6" height="21.63" fill="#36789A"/>
<rect x="1831.3" y="1436.96" width="19.6" height="250.04" fill="#4BA676"/>
<rect x="1831.3" y="1388.79" width="19.6" height="48.17" fill="#EB4A33"/>
<rect x="1831.3" y="1359.3" width="19.6" height="29.49" fill="#36789A"/>
<rect x="1852.1" y="1430.41" width="19.6" height="256.59" fill="#4BA676"/>
<rect x="1852.1" y="1373.06" width="19.6" height="57.35" fill="#EB4A33"/>
<rect x="1852.1" y="1359.3" width="19.6" height="13.76" fill="#36789A"/>
<rect x="1872.9" y="1412.55" width="19.6" height="274.45" fill="#4BA676"/>
<rect x="1872.9" y="1359.3" width="19.6" height="53.25" fill="#EB4A33"/>
<rect x="1893.7" y="1385.19" width="19.6" height="301.81" fill="#4BA676"/>
<rect x="1893.7" y="1359.3" width="19.6" height="25.89" fill="#EB4A33"/>
</g>
<line x1="1137.2" y1="1687.6" x2="1927.7" y2="1687.6" stroke="#a6a6a6" stroke-width="1.33"/>
<text x="1134.5" y="1693.3" font-size="16" text-anchor="end" fill="#555555" stroke="#555555" stroke-width="0.22">0%</text>
<text x="1535.6" y="1736" font-size="17.33" text-anchor="middle" font-weight="bold" fill="#525252" stroke="#525252" stroke-width="0.45">date</text>
<text x="1084" y="1518" font-size="17.33" text-anchor="middle" font-weight="bold" fill="#525252" stroke="#525252" stroke-width="0.45" transform="rotate(-90 1084 1518)">% of $list by run status</text>
<text x="1940.6" y="1353.75" font-size="17.33" font-weight="bold" fill="#525252" stroke="#525252" stroke-width="0.45">result_state</text>
<rect x="1940" y="1367" width="16" height="16" fill="#36789A"/>
<text x="1962.8" y="1378.9" font-size="16" fill="#555555" stroke="#555555" stroke-width="0.22">CANCELLED</text>
<rect x="1940" y="1393" width="16" height="16" fill="#EB4A33"/>
<text x="1962.8" y="1405.57" font-size="16" fill="#555555" stroke="#555555" stroke-width="0.22">ERROR</text>
<rect x="1940" y="1420" width="16" height="16" fill="#EFA8A3"/>
<text x="1962.8" y="1432.23" font-size="16" fill="#555555" stroke="#555555" stroke-width="0.22">FAILED</text>
<rect x="1940" y="1447" width="16" height="16" fill="#99C8E4"/>
<text x="1962.8" y="1458.9" font-size="16" fill="#555555" stroke="#555555" stroke-width="0.22">SKIPPED</text>
<rect x="1940" y="1473" width="16" height="16" fill="#4BA676"/>
<text x="1962.8" y="1485.57" font-size="16" fill="#555555" stroke="#555555" stroke-width="0.22">SUCCEEDED</text>
<rect x="1940" y="1500" width="16" height="16" fill="#919191"/>
<text x="1962.8" y="1512.24" font-size="16" fill="#555555" stroke="#555555" stroke-width="0.22">TIMED_OUT</text>
</svg></div>
</body></html>
